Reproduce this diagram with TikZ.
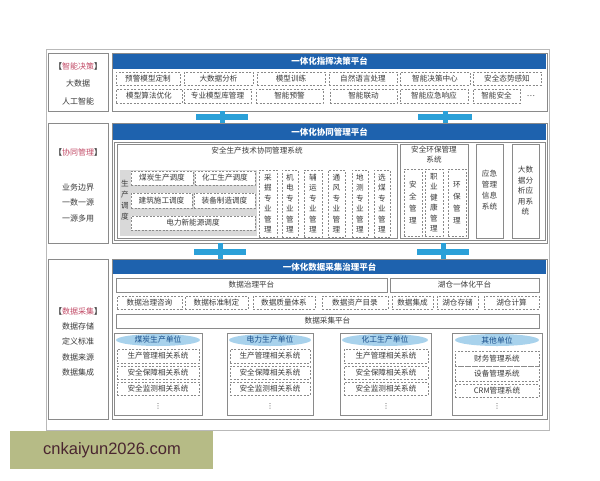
\documentclass[tikz,border=0pt]{standalone}
\usepackage{fontspec}
\setmainfont{Noto Sans CJK SC}
\newfontfamily\wmfont{Liberation Sans}
\newfontfamily\symfont{DejaVu Sans}
\usetikzlibrary{shapes.geometric}
\definecolor{hdrblue}{HTML}{1E62AE}
\definecolor{barcyan}{HTML}{2BA0D8}
\definecolor{ellblue}{HTML}{A8D2EC}
\definecolor{boxgray}{HTML}{8A8A8A}
\definecolor{txtgray}{HTML}{3A3A3A}
\definecolor{lblred}{HTML}{C24A66}
\definecolor{wmolive}{HTML}{B6BB86}
\definecolor{wmtext}{HTML}{4A2630}
\definecolor{shadegray}{HTML}{D9D9D9}
\newcommand\mybox[7]{\node[#1,minimum width={#4-#2},minimum height={#5-#3}] (#6) at ({(#2+#4)/2},{(#3+#5)/2}) {#7};}
\tikzset{
 every node/.style={inner sep=0pt, outer sep=0pt, font=\fontsize{7.6}{9}\selectfont, text=txtgray},
 framebox/.style={draw=boxgray!60, line width=0.6pt},
 sbox/.style={draw=boxgray, line width=0.7pt, fill=white},
 dbox/.style={draw=boxgray, line width=0.7pt, dash pattern=on 2pt off 1.5pt},
 hdr/.style={fill=hdrblue, text=white, font=\fontsize{8.5}{10}\selectfont\bfseries},
 cbar/.style={fill=barcyan},
 stem/.style={draw=barcyan, line width=5pt},
 ell/.style={ellipse, fill=ellblue, text=hdrblue!80!black, font=\fontsize{7.8}{9}\selectfont},
 vtext/.style={align=center, font=\fontsize{7.6}{10.5}\selectfont},
 lbl/.style={font=\fontsize{8}{9}\selectfont, text=txtgray},
 shadebox/.style={fill=shadegray},
 vdot/.style={font=\symfont\fontsize{7}{7}\selectfont},
}
\begin{document}
\begin{tikzpicture}[x=1pt,y=-1pt]
\useasboundingbox (0,0) rectangle (600,480);
% outer frame
\mybox{framebox}{46}{49}{549}{430}{outer}{}
% ---------------- Layer 1 ----------------
\mybox{sbox}{48}{53}{108}{111}{L1left}{}
\node[lbl] (L1t0) at (78,66) {\textbf{【}\textcolor{lblred}{智能决策}\textbf{】}};
\node[lbl] (L1t1) at (78,83) {大数据};
\node[lbl] (L1t2) at (78,101) {人工智能};
\mybox{sbox}{112}{53}{547}{111}{L1main}{}
\mybox{hdr}{113}{54}{546}{69}{L1hdr}{一体化指挥决策平台}
\mybox{dbox}{116}{72}{180}{85}{a1}{预警模型定制}
\mybox{dbox}{184}{72}{253}{85}{a2}{大数据分析}
\mybox{dbox}{257}{72}{325}{85}{a3}{模型训练}
\mybox{dbox}{329}{72}{397}{85}{a4}{自然语言处理}
\mybox{dbox}{400}{72}{470}{85}{a5}{智能决策中心}
\mybox{dbox}{473}{72}{541}{85}{a6}{安全态势感知}
\mybox{dbox}{116}{89}{182}{103}{b1}{模型算法优化}
\mybox{dbox}{184}{89}{251}{103}{b2}{专业模型库管理}
\mybox{dbox}{256}{89}{323}{103}{b3}{智能预警}
\mybox{dbox}{330}{89}{397}{103}{b4}{智能联动}
\mybox{dbox}{400}{89}{468}{103}{b5}{智能应急响应}
\mybox{dbox}{473}{89}{520}{103}{b6}{智能安全}
\node (b7) at (531,96) {…};
% ---------------- Layer 2 ----------------
\mybox{sbox}{48}{123}{108}{243}{L2left}{}
\node[lbl] (L2t0) at (78,152) {\textbf{【}\textcolor{lblred}{协同管理}\textbf{】}};
\node[lbl] (L2t1) at (78,187) {业务边界};
\node[lbl] (L2t2) at (78,202) {一数一源};
\node[lbl] (L2t3) at (78,218) {一源多用};
\mybox{sbox}{112}{123}{547}{243}{L2main}{}
\mybox{hdr}{113}{124}{546}{140}{L2hdr}{一体化协同管理平台}
\mybox{sbox}{114}{142}{545}{240}{L2inner}{}
\mybox{sbox}{117}{144}{397}{238}{sysA}{}
\node (sysAt) at (257,151) {安全生产技术协同管理系统};
\mybox{shadebox}{120}{170}{257}{236}{shade}{}
\node[vtext,font=\fontsize{7.6}{11}\selectfont] (scd) at (125,200) {生\\产\\调\\度};
\mybox{dbox,fill=white}{131}{171}{193}{185}{c1}{煤炭生产调度}
\mybox{dbox,fill=white}{195}{171}{255}{185}{c2}{化工生产调度}
\mybox{dbox,fill=white}{131}{193}{192}{208}{c3}{建筑施工调度}
\mybox{dbox,fill=white}{194}{193}{255}{208}{c4}{装备制造调度}
\mybox{dbox,fill=white}{131}{216}{255}{230}{c5}{电力新能源调度}
\mybox{dbox}{259}{170}{277}{237}{v1}{}
\node[vtext] at (v1) {采\\掘\\专\\业\\管\\理};
\mybox{dbox}{282}{170}{298}{237}{v2}{}
\node[vtext] at (v2) {机\\电\\专\\业\\管\\理};
\mybox{dbox}{304}{170}{322}{237}{v3}{}
\node[vtext] at (v3) {辅\\运\\专\\业\\管\\理};
\mybox{dbox}{328}{170}{345}{237}{v4}{}
\node[vtext] at (v4) {通\\风\\专\\业\\管\\理};
\mybox{dbox}{352}{170}{368}{237}{v5}{}
\node[vtext] at (v5) {地\\测\\专\\业\\管\\理};
\mybox{dbox}{374}{170}{390}{237}{v6}{}
\node[vtext] at (v6) {选\\煤\\专\\业\\管\\理};
\mybox{sbox}{400}{144}{468}{238}{sysB}{}
\node[align=center,font=\fontsize{7.6}{10}\selectfont] (sysBt) at (434,155) {安全环保管理\\系统};
\mybox{dbox}{404}{169}{422}{236}{e1}{}
\node[vtext,font=\fontsize{7.6}{12}\selectfont] at (e1) {安\\全\\管\\理};
\mybox{dbox}{425}{169}{443}{236}{e2}{}
\node[vtext] at (e2) {职\\业\\健\\康\\管\\理};
\mybox{dbox}{448}{169}{466}{236}{e3}{}
\node[vtext,font=\fontsize{7.6}{12}\selectfont] at (e3) {环\\保\\管\\理};
\mybox{sbox}{476}{144}{503}{238}{sysC}{}
\node[vtext,font=\fontsize{7.6}{11}\selectfont] at (489.5,190) {应急\\管理\\信息\\系统};
\mybox{sbox}{512}{144}{539}{238}{sysD}{}
\node[vtext,font=\fontsize{7.6}{10.5}\selectfont] at (525.5,191) {大数\\据分\\析应\\用系\\统};
% ---------------- Layer 3 ----------------
\mybox{sbox}{48}{259}{108}{419}{L3left}{}
\node[lbl] (L3t0) at (78,311) {\textbf{【}\textcolor{lblred}{数据采集}\textbf{】}};
\node[lbl] (L3t1) at (78,326) {数据存储};
\node[lbl] (L3t2) at (78,341) {定义标准};
\node[lbl] (L3t3) at (78,357) {数据来源};
\node[lbl] (L3t4) at (78,372) {数据集成};
\mybox{sbox}{112}{259}{547}{419}{L3main}{}
\mybox{hdr}{113}{260}{546}{274}{L3hdr}{一体化数据采集治理平台}
\mybox{sbox}{116}{278}{387}{292}{g1}{数据治理平台}
\mybox{sbox}{390}{278}{539}{292}{g2}{湖仓一体化平台}
\mybox{dbox}{117}{296}{182}{309}{d1}{数据治理咨询}
\mybox{dbox}{185}{296}{248}{309}{d2}{数据标准制定}
\mybox{dbox}{253}{296}{315}{309}{d3}{数据质量体系}
\mybox{dbox}{322}{296}{388}{309}{d4}{数据资产目录}
\mybox{dbox}{392}{296}{433}{309}{d5}{数据集成}
\mybox{dbox}{437}{296}{478}{309}{d6}{湖仓存储}
\mybox{dbox}{484}{296}{539}{309}{d7}{湖仓计算}
\mybox{sbox}{116}{314}{539}{328}{g3}{数据采集平台}
% units
\mybox{sbox}{114}{333}{202}{415}{u1}{}
\mybox{ell}{116}{334}{200}{346}{u1h}{煤炭生产单位}
\mybox{dbox}{117}{349}{199}{363}{u1a}{生产管理相关系统}
\mybox{dbox}{117}{366}{199}{379}{u1b}{安全保障相关系统}
\mybox{dbox}{117}{382}{199}{395}{u1c}{安全监测相关系统}
\node[vdot] (u1d) at (158,406) {⋮};
\mybox{sbox}{227}{333}{313}{415}{u2}{}
\mybox{ell}{229}{334}{311}{346}{u2h}{电力生产单位}
\mybox{dbox}{230}{349}{310}{363}{u2a}{生产管理相关系统}
\mybox{dbox}{230}{366}{310}{379}{u2b}{安全保障相关系统}
\mybox{dbox}{230}{382}{310}{395}{u2c}{安全监测相关系统}
\node[vdot] (u2d) at (270,406) {⋮};
\mybox{sbox}{340}{333}{431}{415}{u3}{}
\mybox{ell}{342}{334}{428}{346}{u3h}{化工生产单位}
\mybox{dbox}{344}{349}{428}{363}{u3a}{生产管理相关系统}
\mybox{dbox}{344}{366}{428}{379}{u3b}{安全保障相关系统}
\mybox{dbox}{344}{382}{428}{395}{u3c}{安全监测相关系统}
\node[vdot] (u3d) at (386,406) {⋮};
\mybox{sbox}{452}{333}{542}{415}{u4}{}
\mybox{ell}{455}{334}{539}{346}{u4h}{其他单位}
\mybox{dbox}{455}{351}{539}{366}{u4a}{财务管理系统}
\mybox{dbox}{455}{366}{539}{381}{u4b}{设备管理系统}
\mybox{dbox}{455}{384}{539}{397}{u4c}{CRM管理系统}
\node[vdot] (u4d) at (497,406) {⋮};
% ---------------- connectors between layers ----------------
\coordinate (s1) at (222,0);
\coordinate (s2) at (445,0);
\coordinate (s3) at (220,0);
\coordinate (s4) at (443,0);
\draw[stem] (L1main.south -| s1) -- (L2main.north -| s1);
\draw[stem] (L1main.south -| s2) -- (L2main.north -| s2);
\draw[stem] (L2main.south -| s3) -- (L3main.north -| s3);
\draw[stem] (L2main.south -| s4) -- (L3main.north -| s4);
\mybox{cbar}{196}{114}{248}{120}{bar1}{}
\mybox{cbar}{418}{114}{472}{120}{bar2}{}
\mybox{cbar}{194}{249}{246}{255}{bar3}{}
\mybox{cbar}{417}{249}{469}{255}{bar4}{}
% ---------------- watermark ----------------
\mybox{fill=wmolive}{10}{431}{213}{469}{wm}{}
\node[font=\wmfont\fontsize{16.5}{18}\selectfont, text=wmtext] (wmt) at (112,450) {cnkaiyun2026.com};
\end{tikzpicture}
\end{document}
